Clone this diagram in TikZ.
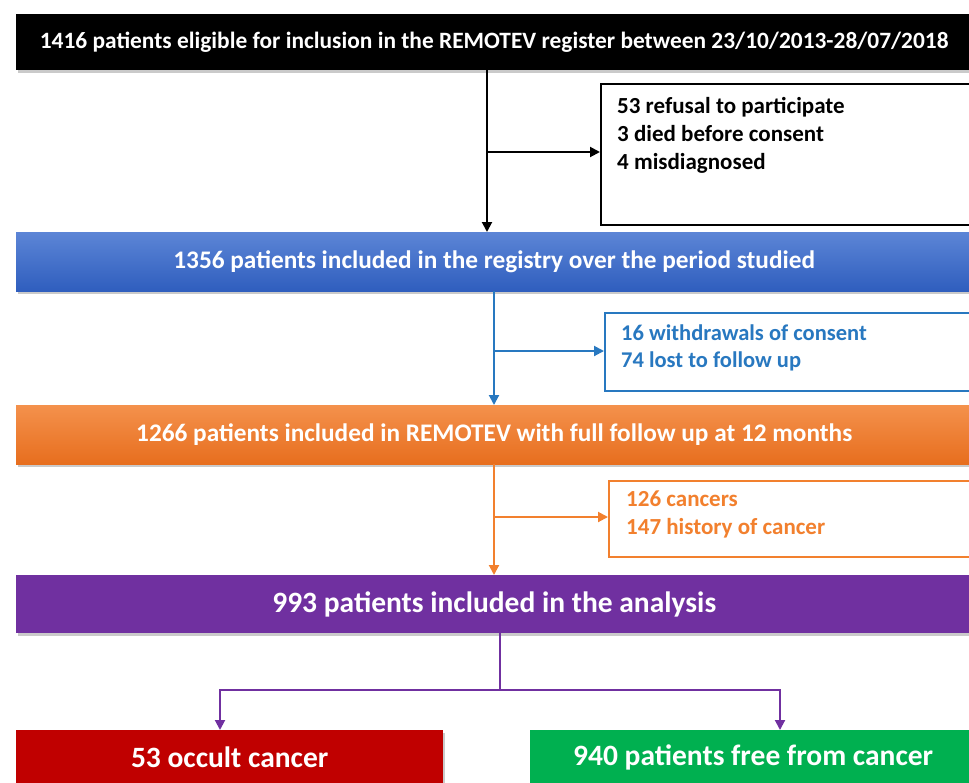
\documentclass[tikz,border=0pt]{standalone}
\usepackage{fontspec}
\setmainfont{Carlito}
\usetikzlibrary{arrows.meta,shadows}
\definecolor{bluetop}{HTML}{5C85D6}
\definecolor{bluebot}{HTML}{2F5EBE}
\definecolor{orgtop}{HTML}{F4914C}
\definecolor{orgbot}{HTML}{E76E1E}
\definecolor{bluetxt}{HTML}{2878C0}
\definecolor{orgtxt}{HTML}{F2802E}
\definecolor{purp}{HTML}{7030A0}
\definecolor{redbox}{HTML}{C00000}
\definecolor{greenbox}{HTML}{00B050}
\begin{document}
\begin{tikzpicture}[x=1pt,y=-1pt,
  bar/.style={anchor=north west,inner sep=0pt,minimum width=#1,
     text=white,font=\bfseries\fontsize{25.3}{28}\selectfont,
     drop shadow={shadow xshift=2pt,shadow yshift=-3pt,opacity=0.35,fill=black!60}},
  big/.style={font=\bfseries\fontsize{29.5}{32}\selectfont},
  side/.style={anchor=north west,inner sep=0pt,fill=white},
  sidetxt/.style={anchor=north west,inner sep=0pt,align=left,font=\bfseries\fontsize{23}{28}\selectfont},
  conn/.style={line width=2pt,-{Triangle[length=10pt,width=10pt]}},
  plain/.style={line width=2pt}]
\useasboundingbox (0,0) rectangle (969,782);
% top
\node[bar=956pt,minimum height=56pt,fill=black,font=\bfseries\fontsize{23.4}{26}\selectfont] (top) at (16,14)
  {\raisebox{3pt}{1416 patients eligible for inclusion in the REMOTEV register between 23/10/2013-28/07/2018}};
\node[side,draw=black,line width=2pt,minimum width=380pt,minimum height=141pt] (ex1) at (600,83) {};
\node[sidetxt,text=black] (ex1t) at (617,97) {53 refusal to participate\\3 died before consent\\4 misdiagnosed};
% blue
\node[bar=956pt,minimum height=59pt,top color=bluetop,bottom color=bluebot] (blue) at (16,232)
  {1356 patients included in the registry over the period studied};
\node[side,draw=bluetxt,line width=1.5pt,minimum width=376pt,minimum height=78pt] (ex2) at (604,312) {};
\node[sidetxt,text=bluetxt,font=\bfseries\fontsize{22.5}{27}\selectfont] (ex2t) at (621,325) {16 withdrawals of consent\\74 lost to follow up};
% orange
\node[bar=956pt,minimum height=59pt,top color=orgtop,bottom color=orgbot] (org) at (16,405)
  {1266 patients included in REMOTEV with full follow up at 12 months};
\node[side,draw=orgtxt,line width=1.5pt,minimum width=372pt,minimum height=76pt] (ex3) at (608,480) {};
\node[sidetxt,text=orgtxt] (ex3t) at (626,491) {126 cancers\\147 history of cancer};
% purple
\node[bar=956pt,minimum height=58pt,fill=purp,big] (pur) at (16,575)
  {993 patients included in the analysis};
% bottom
\node[bar=427pt,minimum height=54pt,fill=redbox,big] (red) at (16,730)
  {53 occult cancer};
\node[bar=446pt,minimum height=54pt,fill=greenbox,big] (grn) at (530,730)
  {940 patients free from cancer};
% connectors
\coordinate (b1) at (487,152);
\draw[conn,black] (top.south -| b1) -- (blue.north -| b1);
\draw[conn,black] (b1) -- (ex1.west |- b1);
\coordinate (b2) at (494,351);
\draw[conn,bluetxt] (blue.south -| b2) -- (org.north -| b2);
\draw[conn,bluetxt] (b2) -- (ex2.west |- b2);
\coordinate (b3) at (494,517);
\draw[conn,orgtxt] (org.south -| b3) -- (pur.north -| b3);
\draw[conn,orgtxt] (b3) -- (ex3.west |- b3);
\coordinate (b4) at (500,690);
\coordinate (l4) at (220,690);
\coordinate (r4) at (780,690);
\draw[plain,purp] (pur.south -| b4) -- (b4);
\draw[conn,purp] (b4) -- (l4) -- (red.north -| l4);
\draw[conn,purp] (b4) -- (r4) -- (grn.north -| r4);
\end{tikzpicture}
\end{document}
